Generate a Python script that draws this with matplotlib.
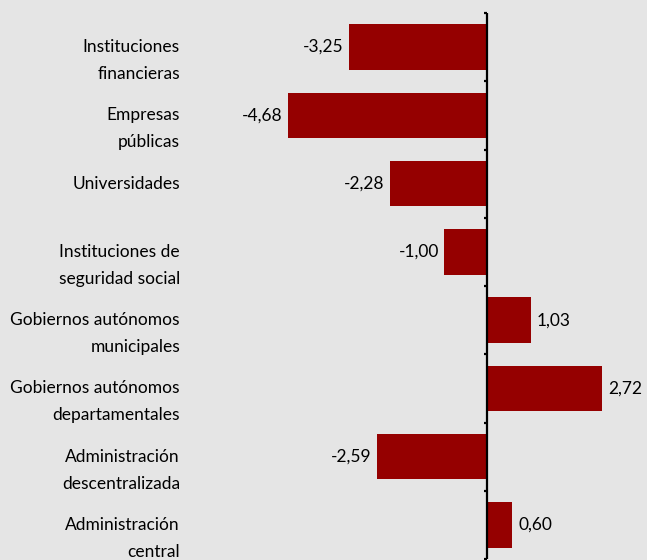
import matplotlib
matplotlib.use("Agg")
import matplotlib.pyplot as plt
from matplotlib.transforms import blended_transform_factory, offset_copy

categories = [
    "Instituciones\nfinancieras",
    "Empresas\npúblicas",
    "Universidades",
    "Instituciones de\nseguridad social",
    "Gobiernos autónomos\nmunicipales",
    "Gobiernos autónomos\ndepartamentales",
    "Administración\ndescentralizada",
    "Administración\ncentral",
]
values = [-3.25, -4.68, -2.28, -1.00, 1.03, 2.72, -2.59, 0.60]
value_labels = ["-3,25", "-4,68", "-2,28", "-1,00", "1,03", "2,72", "-2,59", "0,60"]

BG = "#e5e5e5"
BAR = "#950000"
FONT = ["Lato", "DejaVu Sans"]
FS = 12.5

fig = plt.figure(figsize=(6.47, 5.6), dpi=100, facecolor=BG)
ax = fig.add_axes([274.5 / 647, 1 / 560, (646 - 274.5) / 647, (559 - 13) / 560])
ax.set_facecolor(BG)

n = len(categories)
ypos = list(range(n))
ax.barh(ypos, values, height=0.67, color=BAR, zorder=2)
ax.set_ylim(n - 0.5, -0.5)
ax.set_xlim(-5.0, 3.75)

for s in ["top", "right", "bottom", "left"]:
    ax.spines[s].set_visible(False)
ax.axvline(0, color="black", lw=1.6, zorder=3)
ax.set_xticks([])
ax.set_yticks([])
# small ticks at category boundaries
for b in [i - 0.5 for i in range(n + 1)]:
    ax.plot([-0.07, 0], [b, b], color="black", lw=1.6, zorder=3, clip_on=False,
            solid_capstyle="butt")

# value labels
for y, v, lab in zip(ypos, values, value_labels):
    if v < 0:
        ax.text(v - 0.13, y, lab, ha="right", va="center", fontsize=FS,
                family=FONT, color="black")
    else:
        ax.text(v + 0.15, y, lab, ha="left", va="center", fontsize=FS,
                family=FONT, color="black")

# category labels: first line at bar center, next lines below
tr = blended_transform_factory(fig.transFigure, ax.transData)
for y, cat in zip(ypos, categories):
    for k, line in enumerate(cat.split("\n")):
        t = offset_copy(tr, fig=fig, x=0, y=-k * 19.5, units="points")
        fig.text(180 / 647, y, line, transform=t, ha="right", va="center",
                 fontsize=FS, family=FONT, color="black", clip_on=False)

fig.savefig("out.png", dpi=100, facecolor=BG)
